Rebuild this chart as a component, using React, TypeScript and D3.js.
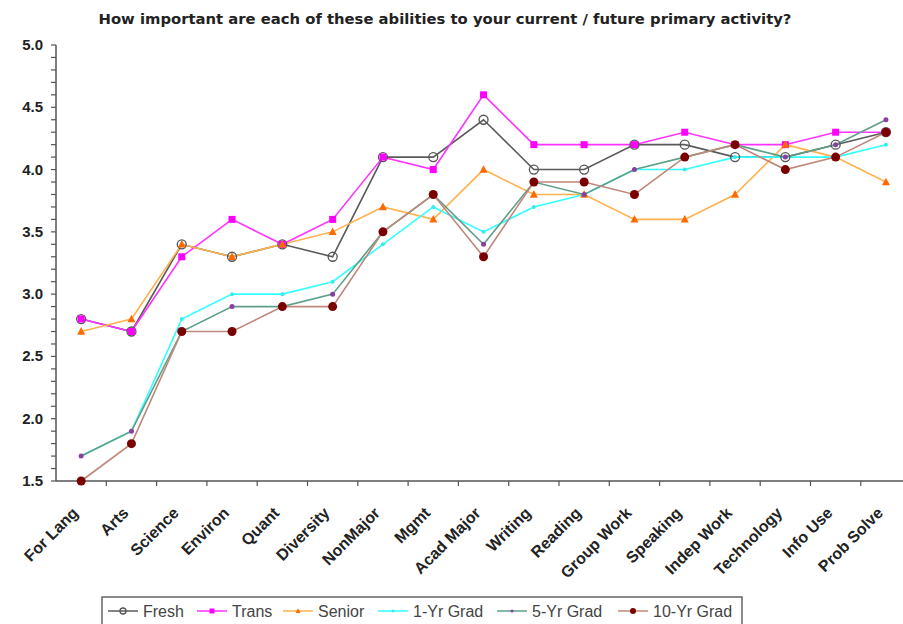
import React, { useEffect, useRef } from "react";
import * as d3 from "d3";

const categories = [
  "For Lang", "Arts", "Science", "Environ", "Quant", "Diversity", "NonMajor", "Mgmt", "Acad Major",
  "Writing", "Reading", "Group Work", "Speaking", "Indep Work", "Technology", "Info Use", "Prob Solve",
];

const fresh = [2.8, 2.7, 3.4, 3.3, 3.4, 3.3, 4.1, 4.1, 4.4, 4.0, 4.0, 4.2, 4.2, 4.1, 4.1, 4.2, 4.3];
const trans = [2.8, 2.7, 3.3, 3.6, 3.4, 3.6, 4.1, 4.0, 4.6, 4.2, 4.2, 4.2, 4.3, 4.2, 4.2, 4.3, 4.3];
const senior = [2.7, 2.8, 3.4, 3.3, 3.4, 3.5, 3.7, 3.6, 4.0, 3.8, 3.8, 3.6, 3.6, 3.8, 4.2, 4.1, 3.9];
const grad1 = [1.7, 1.9, 2.8, 3.0, 3.0, 3.1, 3.4, 3.7, 3.5, 3.7, 3.8, 4.0, 4.0, 4.1, 4.1, 4.1, 4.2];
const grad5 = [1.7, 1.9, 2.7, 2.9, 2.9, 3.0, 3.5, 3.8, 3.4, 3.9, 3.8, 4.0, 4.1, 4.2, 4.1, 4.2, 4.4];
const grad10 = [1.5, 1.8, 2.7, 2.7, 2.9, 2.9, 3.5, 3.8, 3.3, 3.9, 3.9, 3.8, 4.1, 4.2, 4.0, 4.1, 4.3];

const yTicks = [1.5, 2.0, 2.5, 3.0, 3.5, 4.0, 4.5, 5.0];

const series = [
  { name: "Fresh", values: fresh, line: "#5a5a5a", mark: "circleOpen", mcolor: "#555555", size: 4.5 },
  { name: "Trans", values: trans, line: "#ff33ff", mark: "square", mcolor: "#ff00ff", size: 7 },
  { name: "Senior", values: senior, line: "#ffb24d", mark: "triangle", mcolor: "#ff6a00", size: 8 },
  { name: "1-Yr Grad", values: grad1, line: "#33ffff", mark: "dot", mcolor: "#33eeee", size: 2 },
  { name: "5-Yr Grad", values: grad5, line: "#5f9f88", mark: "dot", mcolor: "#8a3fa0", size: 2.5 },
  { name: "10-Yr Grad", values: grad10, line: "#c0887a", mark: "circle", mcolor: "#7a0000", size: 4.5 },
];

function drawMarker(g: any, kind: string, x: number, y: number, color: string, size: number) {
  if (kind === "circleOpen") {
    g.append("circle").attr("cx", x).attr("cy", y).attr("r", size)
      .attr("fill", "none").attr("stroke", color).attr("stroke-width", 1.3);
  } else if (kind === "square") {
    g.append("rect").attr("x", x - size / 2).attr("y", y - size / 2)
      .attr("width", size).attr("height", size).attr("fill", color);
  } else if (kind === "triangle") {
    const s = size;
    g.append("path")
      .attr("d", `M${x},${y - s * 0.55}L${x + s / 2},${y + s * 0.4}L${x - s / 2},${y + s * 0.4}Z`)
      .attr("fill", color);
  } else {
    g.append("circle").attr("cx", x).attr("cy", y).attr("r", size).attr("fill", color);
  }
}

function App() {
  const ref = useRef<SVGSVGElement>(null);

  useEffect(() => {
    const svg = d3.select(ref.current);
    svg.selectAll("*").remove();

    const left = 56, top = 45, bottom = 481;
    const bw = 50.3;

    const x = d3.scaleBand().domain(categories).range([left, left + bw * categories.length]).padding(0);
    const y = d3.scaleLinear().domain([1.5, 5.0]).range([bottom, top]);
    const cx = (c: string) => (x(c) as number) + x.bandwidth() / 2;

    // title
    svg.append("text")
      .attr("x", 445).attr("y", 24)
      .attr("text-anchor", "middle")
      .style("font-family", "'DejaVu Sans', Verdana, sans-serif")
      .style("font-weight", "bold")
      .style("font-size", "14.8px")
      .attr("fill", "#222")
      .text("How important are each of these abilities to your current / future primary activity?");

    // y axis
    const axisColor = "#555";
    svg.append("line").attr("x1", left).attr("x2", left).attr("y1", top).attr("y2", bottom)
      .attr("stroke", axisColor).attr("stroke-width", 1.5);
    d3.range(15, 51).forEach((v) => {
      svg.append("line")
        .attr("x1", left - 5).attr("x2", left)
        .attr("y1", y(v / 10)).attr("y2", y(v / 10))
        .attr("stroke", axisColor).attr("stroke-width", 1.2);
    });
    svg.selectAll(".ylab").data(yTicks).enter().append("text")
      .attr("x", 43).attr("y", (d) => y(d) + 5)
      .attr("text-anchor", "end")
      .style("font-family", "'Liberation Sans', Arial, sans-serif")
      .style("font-weight", "bold")
      .style("font-size", "15px")
      .attr("fill", "#222")
      .text((d) => d.toFixed(1));

    // x axis
    svg.append("line").attr("x1", left).attr("x2", 903).attr("y1", bottom).attr("y2", bottom)
      .attr("stroke", axisColor).attr("stroke-width", 1.5);
    categories.forEach((c) => {
      const tx = (x(c) as number) + x.bandwidth();
      svg.append("line").attr("x1", tx).attr("x2", tx).attr("y1", bottom).attr("y2", bottom + 5)
        .attr("stroke", axisColor).attr("stroke-width", 1.2);
    });
    svg.selectAll(".xlab").data(categories).enter().append("text")
      .attr("transform", (d) => `translate(${cx(d) - 2},${bottom + 33}) rotate(-45)`)
      .attr("text-anchor", "end")
      .style("font-family", "'Liberation Sans', Arial, sans-serif")
      .style("font-weight", "bold")
      .style("font-size", "16px")
      .attr("fill", "#222")
      .text((d) => d);

    // lines
    const line = d3.line<number>()
      .x((d, i) => cx(categories[i]))
      .y((d) => y(d));

    series.forEach((s) => {
      svg.append("path")
        .attr("d", line(s.values))
        .attr("fill", "none")
        .attr("stroke", s.line)
        .attr("stroke-width", 1.6);
    });
    series.forEach((s) => {
      const g = svg.append("g");
      s.values.forEach((v, i) => drawMarker(g, s.mark, cx(categories[i]), y(v), s.mcolor, s.size));
    });

    // legend
    const lg = svg.append("g");
    lg.append("rect").attr("x", 102).attr("y", 597).attr("width", 640).attr("height", 40)
      .attr("fill", "white").attr("stroke", "#666").attr("stroke-width", 1.5);
    const legendX = [108, 197, 283, 378, 497, 618];
    series.forEach((s, i) => {
      const lx = legendX[i];
      const ly = 611;
      lg.append("line").attr("x1", lx).attr("x2", lx + 30).attr("y1", ly).attr("y2", ly)
        .attr("stroke", s.line).attr("stroke-width", 1.5);
      const sz = s.mark === "circleOpen" ? 3 : s.mark === "circle" ? 3 : s.mark === "dot" ? 1.5 : 5;
      drawMarker(lg, s.mark, lx + 15, ly, s.mcolor, sz);
      lg.append("text").attr("x", lx + 35).attr("y", ly + 6)
        .style("font-family", "'Liberation Sans', Arial, sans-serif")
        .style("font-size", "16px")
        .attr("fill", "#444")
        .text(s.name);
    });
  }, []);

  return (
    <svg ref={ref} width={903} height={624}
      style={{ position: "absolute", left: 0, top: 0, background: "white" }} />
  );
}

export default App;
